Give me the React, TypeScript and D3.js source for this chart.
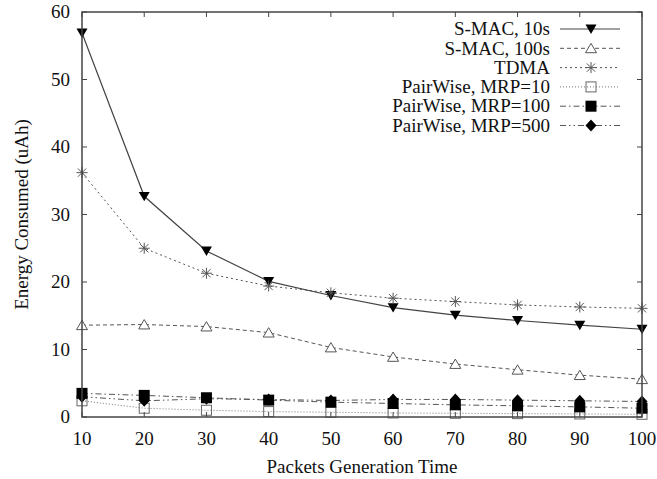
import React from "react";
import * as d3 from "d3";

const xValues = [10, 20, 30, 40, 50, 60, 70, 80, 90, 100];
const smac10 = [56.9, 32.7, 24.6, 20.1, 18.0, 16.2, 15.1, 14.3, 13.6, 13.0];
const smac100 = [13.6, 13.7, 13.4, 12.5, 10.3, 8.9, 7.85, 7.0, 6.2, 5.6];
const tdma = [36.2, 25.0, 21.3, 19.4, 18.4, 17.6, 17.1, 16.6, 16.3, 16.1];
const pw10 = [2.4, 1.3, 1.0, 0.8, 0.7, 0.6, 0.55, 0.5, 0.45, 0.4];
const pw100 = [3.5, 3.2, 2.85, 2.5, 2.2, 2.0, 1.8, 1.65, 1.5, 1.3];
const pw500 = [3.0, 2.4, 2.7, 2.6, 2.45, 2.6, 2.6, 2.5, 2.4, 2.3];
const yTicks = [0, 10, 20, 30, 40, 50, 60];
const xTicks = [10, 20, 30, 40, 50, 60, 70, 80, 90, 100];

type Marker = "tri-down" | "tri-up" | "star" | "sq-open" | "sq-fill" | "diamond";
const series: { name: string; values: number[]; marker: Marker; dash: string; color: string; width: number }[] = [
  { name: "S-MAC, 10s", values: smac10, marker: "tri-down", dash: "", color: "#444", width: 1.2 },
  { name: "S-MAC, 100s", values: smac100, marker: "tri-up", dash: "4,3", color: "#555", width: 1 },
  { name: "TDMA", values: tdma, marker: "star", dash: "2,3", color: "#555", width: 1 },
  { name: "PairWise, MRP=10", values: pw10, marker: "sq-open", dash: "1,2", color: "#777", width: 1 },
  { name: "PairWise, MRP=100", values: pw100, marker: "sq-fill", dash: "6,3,1.5,3", color: "#555", width: 1 },
  { name: "PairWise, MRP=500", values: pw500, marker: "diamond", dash: "6,3,1.5,3,1.5,3", color: "#555", width: 1 },
];

function MarkerShape({ m, x, y }: { m: Marker; x: number; y: number }) {
  const s = 5.5;
  switch (m) {
    case "tri-down":
      return <path d={`M${x - s},${y - s * 0.8} L${x + s},${y - s * 0.8} L${x},${y + s * 0.9} Z`} fill="#000" />;
    case "tri-up":
      return <path d={`M${x - s},${y + s * 0.8} L${x + s},${y + s * 0.8} L${x},${y - s * 0.9} Z`} fill="#fff" stroke="#555" strokeWidth={1} />;
    case "star":
      return (
        <g stroke="#555" strokeWidth={1}>
          <line x1={x - s} y1={y} x2={x + s} y2={y} />
          <line x1={x} y1={y - s} x2={x} y2={y + s} />
          <line x1={x - s * 0.75} y1={y - s * 0.75} x2={x + s * 0.75} y2={y + s * 0.75} />
          <line x1={x - s * 0.75} y1={y + s * 0.75} x2={x + s * 0.75} y2={y - s * 0.75} />
        </g>
      );
    case "sq-open":
      return <rect x={x - 5} y={y - 5} width={10} height={10} fill="none" stroke="#666" strokeWidth={1} />;
    case "sq-fill":
      return <rect x={x - 5.5} y={y - 5.5} width={11} height={11} fill="#000" />;
    case "diamond":
      return <path d={`M${x},${y - 6} L${x + 5.5},${y} L${x},${y + 6} L${x - 5.5},${y} Z`} fill="#000" />;
  }
}

const FONT = "Liberation Serif, Times New Roman, Times, serif";

export default function App() {
  const W = 657, H = 479;
  const left = 82, right = 642, top = 12, bottom = 417;
  const x = d3.scaleLinear().domain([10, 100]).range([left, right]);
  const y = d3.scaleLinear().domain([0, 60]).range([bottom, top]);
  const line = d3.line<number>().x((_, i) => x(xValues[i])).y((d) => y(d));
  const legX = 550, legY0 = 29, legDy = 19.3;
  const ts: React.CSSProperties = { fontFamily: FONT, fontSize: "19px" };
  return (
    <svg width={W} height={H} style={{ position: "absolute", left: 0, top: 0, background: "#fff" }}>
      <rect x={0} y={0} width={W} height={H} fill="#fff" />
      {series.map((s) => (
        <path key={s.name} d={line(s.values) || ""} fill="none" stroke={s.color} strokeWidth={s.width} strokeDasharray={s.dash || undefined} />
      ))}
      {series.map((s) => (
        <g key={s.name + "m"}>
          {s.values.map((v, i) => (
            <MarkerShape key={i} m={s.marker} x={x(xValues[i])} y={y(v)} />
          ))}
        </g>
      ))}
      <rect x={left} y={top} width={right - left} height={bottom - top} fill="none" stroke="#444" strokeWidth={1.5} />
      {yTicks.map((t) => (
        <g key={"y" + t}>
          <line x1={left} x2={left + 5} y1={y(t)} y2={y(t)} stroke="#444" />
          <line x1={right} x2={right - 5} y1={y(t)} y2={y(t)} stroke="#444" />
          <text x={70} y={y(t)} dy="0.33em" textAnchor="end" style={ts} fill="#111">{t}</text>
        </g>
      ))}
      {xTicks.map((t) => (
        <g key={"x" + t}>
          <line x1={x(t)} x2={x(t)} y1={bottom} y2={bottom - 5} stroke="#444" />
          <line x1={x(t)} x2={x(t)} y1={top} y2={top + 5} stroke="#444" />
          <text x={x(t)} y={445} textAnchor="middle" style={ts} fill="#111">{t}</text>
        </g>
      ))}
      <text x={(left + right) / 2} y={473} textAnchor="middle" style={ts} fill="#111">Packets Generation Time</text>
      <text transform={`translate(28,${(top + bottom) / 2}) rotate(-90)`} textAnchor="middle" style={ts} fill="#111">Energy Consumed (uAh)</text>
      {series.map((s, i) => {
        const ly = legY0 + i * legDy;
        return (
          <g key={"leg" + s.name}>
            <text x={legX} y={ly} dy="0.33em" textAnchor="end" style={ts} fill="#111">{s.name}</text>
            <line x1={560} x2={620} y1={ly} y2={ly} stroke={s.color} strokeWidth={s.width} strokeDasharray={s.dash || undefined} />
            <MarkerShape m={s.marker} x={591} y={ly} />
          </g>
        );
      })}
    </svg>
  );
}
